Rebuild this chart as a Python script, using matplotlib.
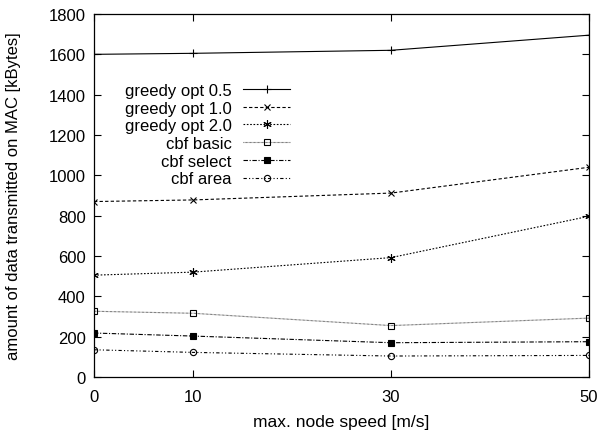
import matplotlib
matplotlib.use("Agg")
import matplotlib.pyplot as plt

# max. node speed [m/s]
speeds = [0, 10, 30, 50]

# amount of data transmitted on MAC [kBytes]
greedy_05 = [1600, 1605, 1620, 1695]
greedy_10 = [870, 878, 912, 1040]
greedy_20 = [505, 520, 592, 797]
cbf_basic = [326, 316, 255, 292]
cbf_select = [218, 203, 170, 175]
cbf_area = [135, 122, 104, 107]

plt.rcParams['font.family'] = ['Liberation Sans', 'DejaVu Sans']

W, H = 600, 435
fig = plt.figure(figsize=(W / 100, H / 100), dpi=100)
ax = fig.add_axes([94 / W, 1 - 378 / H, (589 - 94) / W, (378 - 15) / H])

ax.plot(speeds, greedy_05, color='black', lw=0.8, ls='-', marker='+', ms=6, mew=0.8, label='greedy opt 0.5')
ax.plot(speeds, greedy_10, color='black', lw=0.8, ls=(0, (3, 2)), marker='x', ms=4.5, mew=0.8, label='greedy opt 1.0')
ax.plot(speeds, greedy_20, color='black', lw=0.8, ls=(0, (1.5, 1.5)), marker=(6, 2, 0), ms=6, mew=0.8, label='greedy opt 2.0')
ax.plot(speeds, cbf_basic, color='#444444', lw=0.8, ls=(0, (0.6, 0.6)), marker='s', ms=5, mfc='none', mec='black', mew=0.8, label='cbf basic')
ax.plot(speeds, cbf_select, color='black', lw=0.8, ls=(0, (4, 1.5, 1, 1.5)), marker='s', ms=5, mew=0.8, label='cbf select')
ax.plot(speeds, cbf_area, color='black', lw=0.8, ls=(0, (3, 2, 1, 2, 1, 2)), marker='o', ms=4.5, mfc='none', mew=0.8, label='cbf area')

ax.set_xlim(0, 50)
ax.set_ylim(0, 1800)
ax.set_xticks(speeds)
ax.set_yticks(range(0, 1801, 200))
ax.tick_params(direction='in', top=True, right=True, length=5, width=0.8,
               labelsize=12, pad=6)
ax.tick_params(axis='x', pad=9)
for s in ax.spines.values():
    s.set_linewidth(0.9)

ax.set_xlabel('max. node speed [m/s]', fontsize=12.5, labelpad=7)
ax.set_ylabel('amount of data transmitted on MAC [kBytes]', fontsize=12)
# gnuplot puts the y label close to the left edge
ax.yaxis.set_label_coords((21 - 94) / (589 - 94), 0.5)

leg = ax.legend(loc='upper right', bbox_to_anchor=(290 / W, 1 - 84 / H),
                bbox_transform=fig.transFigure, frameon=False,
                markerfirst=False, fontsize=12, handlelength=2.8,
                labelspacing=0.16, handletextpad=0.7, borderaxespad=0, borderpad=0)
for t in leg.get_texts():
    t.set_ha('right')
leg._legend_box.align = 'right'

fig.savefig('out.png', dpi=100)
